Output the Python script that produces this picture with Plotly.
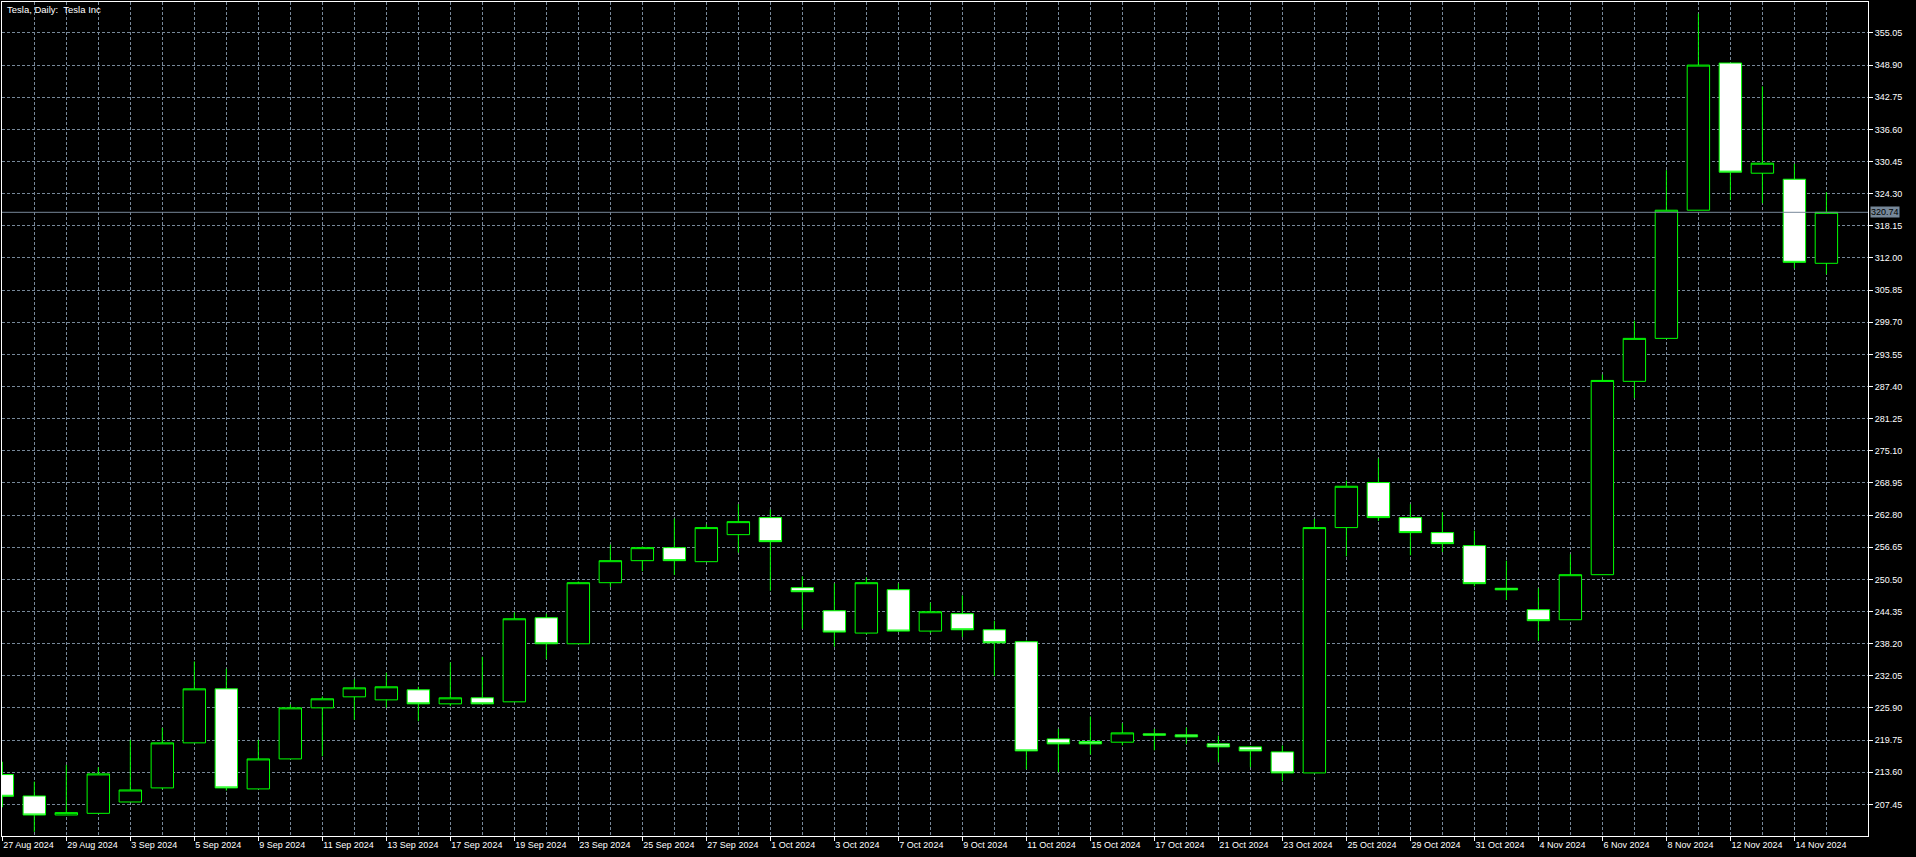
import plotly.graph_objects as go

dates = ["27 Aug 2024", "28 Aug 2024", "29 Aug 2024", "30 Aug 2024",
         "3 Sep 2024", "4 Sep 2024", "5 Sep 2024", "6 Sep 2024",
         "9 Sep 2024", "10 Sep 2024", "11 Sep 2024", "12 Sep 2024", "13 Sep 2024",
         "16 Sep 2024", "17 Sep 2024", "18 Sep 2024", "19 Sep 2024", "20 Sep 2024",
         "23 Sep 2024", "24 Sep 2024", "25 Sep 2024", "26 Sep 2024", "27 Sep 2024",
         "30 Sep 2024", "1 Oct 2024", "2 Oct 2024", "3 Oct 2024", "4 Oct 2024",
         "7 Oct 2024", "8 Oct 2024", "9 Oct 2024", "10 Oct 2024", "11 Oct 2024",
         "14 Oct 2024", "15 Oct 2024", "16 Oct 2024", "17 Oct 2024", "18 Oct 2024",
         "21 Oct 2024", "22 Oct 2024", "23 Oct 2024", "24 Oct 2024", "25 Oct 2024",
         "28 Oct 2024", "29 Oct 2024", "30 Oct 2024", "31 Oct 2024", "1 Nov 2024",
         "4 Nov 2024", "5 Nov 2024", "6 Nov 2024", "7 Nov 2024", "8 Nov 2024",
         "11 Nov 2024", "12 Nov 2024", "13 Nov 2024", "14 Nov 2024", "15 Nov 2024"]

opens = [213.15, 209.06, 205.42, 205.74, 207.91, 210.60, 219.22, 229.56,
         210.41, 216.15, 225.92, 228.03, 227.45, 229.37, 226.69, 227.84, 227.07, 243.16,
         238.18, 249.87, 254.08, 256.57, 253.89, 259.06, 262.32, 248.91, 244.50, 240.23,
         248.53, 240.61, 243.93, 240.86, 238.57, 219.98, 219.47, 219.35, 220.95, 220.75,
         219.03, 218.45, 217.49, 213.47, 260.41, 269.03, 262.32, 259.45, 256.96, 248.80,
         244.70, 242.78, 251.40, 288.40, 296.62, 321.14, 349.30, 328.22, 327.07, 310.98]

highs = [215.60, 211.81, 215.00, 214.56, 219.79, 222.09, 234.80, 233.39,
         219.79, 226.56, 228.09, 231.35, 232.63, 229.95, 234.61, 235.69, 244.19, 243.93,
         250.10, 257.15, 256.80, 262.13, 261.00, 264.88, 263.85, 251.08, 249.74, 250.89,
         249.74, 246.04, 247.44, 242.59, 238.80, 221.90, 224.26, 222.98, 221.90, 222.15,
         220.62, 218.60, 218.71, 262.07, 269.41, 273.63, 264.88, 263.34, 259.83, 254.08,
         248.78, 255.30, 289.72, 300.00, 328.80, 358.75, 349.30, 344.83, 330.01, 324.58]

lows = [206.90, 202.20, 205.42, 205.74, 207.91, 210.34, 219.22, 210.09,
        210.41, 216.15, 216.66, 223.62, 225.92, 223.37, 226.24, 226.60, 227.07, 235.25,
        238.18, 249.04, 252.10, 251.34, 253.89, 255.62, 248.34, 241.06, 237.61, 240.00,
        240.50, 240.23, 239.46, 231.99, 214.17, 213.60, 216.98, 218.77, 217.81, 219.03,
        215.51, 214.56, 211.88, 213.47, 254.91, 261.68, 255.11, 255.75, 249.17, 246.55,
        238.70, 242.78, 251.40, 285.18, 296.62, 321.14, 323.12, 322.48, 310.02, 308.88]

closes = [209.00, 205.42, 205.87, 213.28, 210.21, 219.22, 229.56, 210.60,
          216.15, 225.92, 227.65, 229.75, 229.95, 226.69, 227.84, 226.69, 242.97, 238.18,
          249.87, 254.08, 256.57, 254.08, 260.41, 261.55, 257.72, 248.14, 240.42, 249.87,
          240.61, 244.31, 240.86, 238.37, 217.68, 219.03, 219.03, 221.13, 220.70, 220.37,
          218.45, 217.68, 213.47, 260.41, 268.32, 262.32, 259.45, 257.34, 249.68, 248.50,
          242.59, 251.40, 288.57, 296.62, 321.14, 348.91, 328.42, 330.14, 311.17, 320.74]

current_price = 320.74
price_ticks = [207.45 + 6.15 * k for k in range(25)]
title_text = "Tesla, Daily:\u00a0 Tesla Inc"

GRID = "#778899"
GREEN = "#00ff00"
FONT = "Liberation Sans"

idx = list(range(len(dates)))

fig = go.Figure()
fig.add_trace(go.Candlestick(
    x=idx, open=opens, high=highs, low=lows, close=closes,
    increasing=dict(fillcolor="black", line=dict(color=GREEN, width=1)),
    decreasing=dict(fillcolor="white", line=dict(color=GREEN, width=1)),
    whiskerwidth=0,
    hoverinfo="skip",
    showlegend=False,
))

major_ticks = idx[::2]
fig.update_layout(
    width=1916, height=857,
    margin=dict(l=2, r=48, t=2, b=21, pad=0),
    paper_bgcolor="black", plot_bgcolor="black",
    boxgap=0.3, boxgroupgap=0,
    showlegend=False,
    font=dict(family=FONT, size=9, color="white"),
    xaxis=dict(
        range=[-0.01, 58.30],
        rangeslider=dict(visible=False),
        tickmode="array",
        tickvals=major_ticks,
        ticktext=[dates[i] for i in major_ticks],
        ticks="outside", ticklen=4, tickcolor="white", tickwidth=1,
        ticklabelposition="outside right",
        tickfont=dict(family=FONT, size=9, color="white"),
        showline=True, linecolor="white", linewidth=1, mirror=True,
        showgrid=True, gridcolor=GRID, gridwidth=1, griddash="3px,2px",
        minor=dict(tickmode="array", tickvals=idx[1::2], showgrid=True,
                   gridcolor=GRID, gridwidth=1, griddash="3px,2px", ticks=""),
        zeroline=False, fixedrange=True,
    ),
    yaxis=dict(
        side="right",
        range=[201.40, 360.98],
        tickmode="array",
        tickvals=price_ticks,
        ticktext=[f"{v:.2f}" for v in price_ticks],
        ticks="outside", ticklen=4, tickcolor="white", tickwidth=1,
        tickfont=dict(family=FONT, size=9, color="white"),
        showline=True, linecolor="white", linewidth=1, mirror=True,
        showgrid=True, gridcolor=GRID, gridwidth=1, griddash="3px,2px",
        zeroline=False, fixedrange=True,
    ),
)

fig.add_shape(type="line", xref="paper", x0=0, x1=1, yref="y",
              y0=current_price, y1=current_price,
              line=dict(color=GRID, width=1))

fig.add_annotation(xref="paper", x=1, xanchor="left", xshift=2,
                   yref="y", y=current_price, yanchor="middle",
                   text=f"{current_price:.2f}", showarrow=False,
                   bgcolor=GRID, borderpad=0,
                   font=dict(family=FONT, size=9, color="black"))

fig.add_annotation(xref="paper", x=0, xanchor="left", xshift=3,
                   yref="paper", y=1, yanchor="top", yshift=0,
                   text=title_text, showarrow=False,
                   font=dict(family=FONT, size=9.5, color="white"))

fig.write_html("out.html", config={"displayModeBar": False},
               post_script="document.body.style.margin='0';document.body.style.background='black';")
